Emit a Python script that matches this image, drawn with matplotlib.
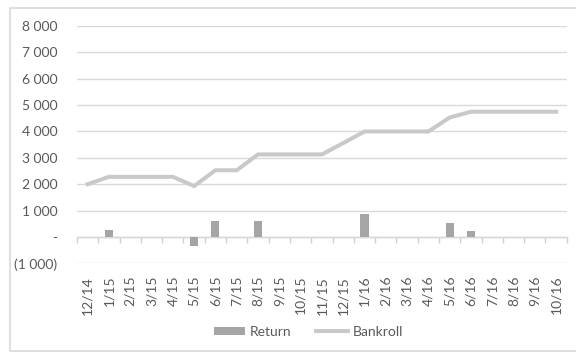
import matplotlib
matplotlib.use("Agg")
import matplotlib.pyplot as plt
from matplotlib.ticker import FuncFormatter, FixedLocator
from matplotlib.patches import Rectangle
import numpy as np

months = ['12/14', '1/15', '2/15', '3/15', '4/15', '5/15', '6/15', '7/15', '8/15',
          '9/15', '10/15', '11/15', '12/15', '1/16', '2/16', '3/16', '4/16', '5/16',
          '6/16', '7/16', '8/16', '9/16', '10/16']
returns = [0, 280, 0, 0, 0, -350, 600, 0, 600, 0, 0, 0, 0, 880, 0, 0, 0, 530, 220,
           0, 0, 0, 0]
bankroll = [2000, 2280, 2280, 2280, 2280, 1930, 2530, 2530, 3130, 3130, 3130, 3130,
            3560, 4000, 4000, 4000, 4000, 4530, 4750, 4750, 4750, 4750, 4750]
y_ticks = [-1000, 0, 1000, 2000, 3000, 4000, 5000, 6000, 7000, 8000]

plt.rcParams['font.family'] = ['Lato', 'DejaVu Sans']
text_color = '#595959'
grid_color = '#d9d9d9'

fig = plt.figure(figsize=(5.76, 3.52), dpi=100)
ax = fig.add_axes([0.1337, 0.252, 0.8503, 0.674])

x = np.arange(len(months))
bars = ax.bar(x, returns, width=0.38, color='#a5a5a5', label='Return', zorder=3)
line, = ax.plot(x, bankroll, color='#c9c9c9', lw=2.9, label='Bankroll', zorder=4,
                solid_joinstyle='miter')

ax.set_xlim(-0.5, len(months) - 0.5)
ax.set_ylim(-1000, 8000)
ax.set_yticks(y_ticks)


def fmt(v, pos):
    if v == 0:
        return '-'
    s = f"{abs(int(v)):,}".replace(',', ' ')
    return f"({s})" if v < 0 else s


ax.yaxis.set_major_formatter(FuncFormatter(fmt))
ax.grid(axis='y', color=grid_color, lw=1, zorder=0)
for sp in ax.spines.values():
    sp.set_visible(False)
ax.tick_params(axis='y', length=0, pad=14, labelsize=10, labelcolor=text_color)

ax.set_xticks(x)
ax.set_xticklabels(months, rotation=90)
ax.tick_params(axis='x', length=0, pad=9, labelsize=10, labelcolor=text_color)

# horizontal axis line at zero with category-boundary tick marks
sec = ax.secondary_xaxis(1000 / 9000)
sec.spines['bottom'].set_color('#cfcfcf')
sec.spines['bottom'].set_linewidth(1)
sec.xaxis.set_major_locator(FixedLocator(np.arange(-0.5, len(months), 1.0)))
sec.tick_params(axis='x', length=4, color='#cfcfcf', width=1, labelbottom=False)

leg = fig.legend([bars, line], ['Return', 'Bankroll'], loc='center',
                 bbox_to_anchor=(0.535, 0.057), ncol=2, frameon=False,
                 fontsize=10, handlelength=2.3, handleheight=0.55,
                 columnspacing=1.8, handletextpad=0.3)
for t in leg.get_texts():
    t.set_color(text_color)

fig.patches.append(Rectangle((10 / 576, 1 / 352), 1.2, 343 / 352,
                             transform=fig.transFigure, fill=False,
                             edgecolor=grid_color, lw=1.2))

fig.savefig('out.png', dpi=100)
